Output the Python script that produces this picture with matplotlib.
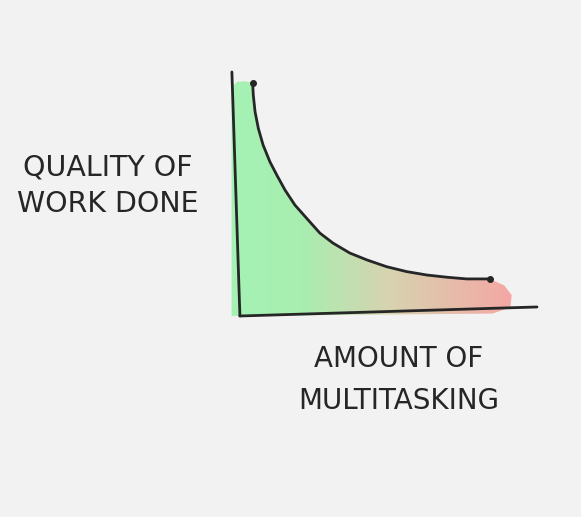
import matplotlib.pyplot as plt
import numpy as np
from matplotlib.colors import LinearSegmentedColormap
from matplotlib.patches import Polygon

# curve: quality of work vs amount of multitasking (arbitrary units 0..10)
multitasking = [0.43, 0.45, 0.51, 0.62, 0.78, 1.01, 1.24, 1.52, 1.85, 2.25,
                2.69, 3.13, 3.70, 4.27, 4.94, 5.61, 6.29, 6.96, 7.63, 8.42]
quality = [9.54, 9.06, 8.37, 7.69, 7.01, 6.32, 5.78, 5.16, 4.55, 4.00,
           3.40, 2.99, 2.58, 2.30, 2.02, 1.82, 1.68, 1.59, 1.52, 1.52]

# shaded region outline (extends a bit past the curve, like the marker fill)
fill_left_x = [-0.28, -0.28, -0.1, 0.2]
fill_left_y = [0.0, 9.35, 9.6, 9.62]
fill_right_x = [8.9, 9.15, 9.1, 8.5]
fill_right_y = [1.25, 0.85, 0.35, 0.1]

ylabel = "QUALITY OF\nWORK DONE"
xlabel = "AMOUNT OF\nMULTITASKING"

bg = "#f2f2f2"
ink = "#262626"

fig = plt.figure(figsize=(5.81, 5.17), dpi=100, facecolor=bg)
# axes box matches the drawn axes: px 231..537 wide, 72..316 tall
ax = fig.add_axes([231 / 581, 1 - 316 / 517, 306 / 581, 244 / 517])
ax.axis("off")

# gradient fill, clipped to the region under the curve
cmap = LinearSegmentedColormap.from_list(
    "gr", [(0.0, "#a4f2b4"), (0.25, "#a8eeb0"), (0.55, "#d6d4b0"), (1.0, "#f5a6a4")])
grad = np.linspace(0, 1, 256).reshape(1, -1)
img = ax.imshow(grad, cmap=cmap, aspect="auto", extent=[-0.3, 9.2, 0, 10],
                origin="lower", zorder=1)
px = fill_left_x + multitasking + fill_right_x
py = fill_left_y + quality + fill_right_y
clip = Polygon(np.column_stack([px, py]), closed=True, transform=ax.transData,
               facecolor="none", edgecolor="none")
ax.add_patch(clip)
img.set_clip_path(clip)
ax.set_xlim(-0.3, 10)
ax.set_ylim(0, 10)

# hand-drawn axes (slightly slanted)
ax.plot([-0.27, 0.0], [10.0, 0.0], color=ink, lw=2.0, solid_capstyle="round",
        clip_on=False, zorder=3)
ax.plot([0.0, 10.0], [0.0, 0.37], color=ink, lw=2.0, solid_capstyle="round",
        clip_on=False, zorder=3)

# the curve
xs = np.array(multitasking)
ys = np.array(quality)
ax.plot(xs, ys, color=ink, lw=2.0, solid_capstyle="round", zorder=4, clip_on=False)
ax.plot([xs[0], xs[-1]], [ys[0], ys[-1]], "o", color=ink, ms=4, zorder=5,
        clip_on=False)

fig.text(108 / 581, 1 - 186 / 517, ylabel, ha="center", va="center",
         fontsize=20.5, color=ink, family="DejaVu Sans", linespacing=1.4)
fig.text(399 / 581, 1 - 380 / 517, xlabel, ha="center", va="center",
         fontsize=20, color=ink, family="DejaVu Sans", linespacing=1.65)

fig.savefig("out.png", dpi=100, facecolor=bg)
